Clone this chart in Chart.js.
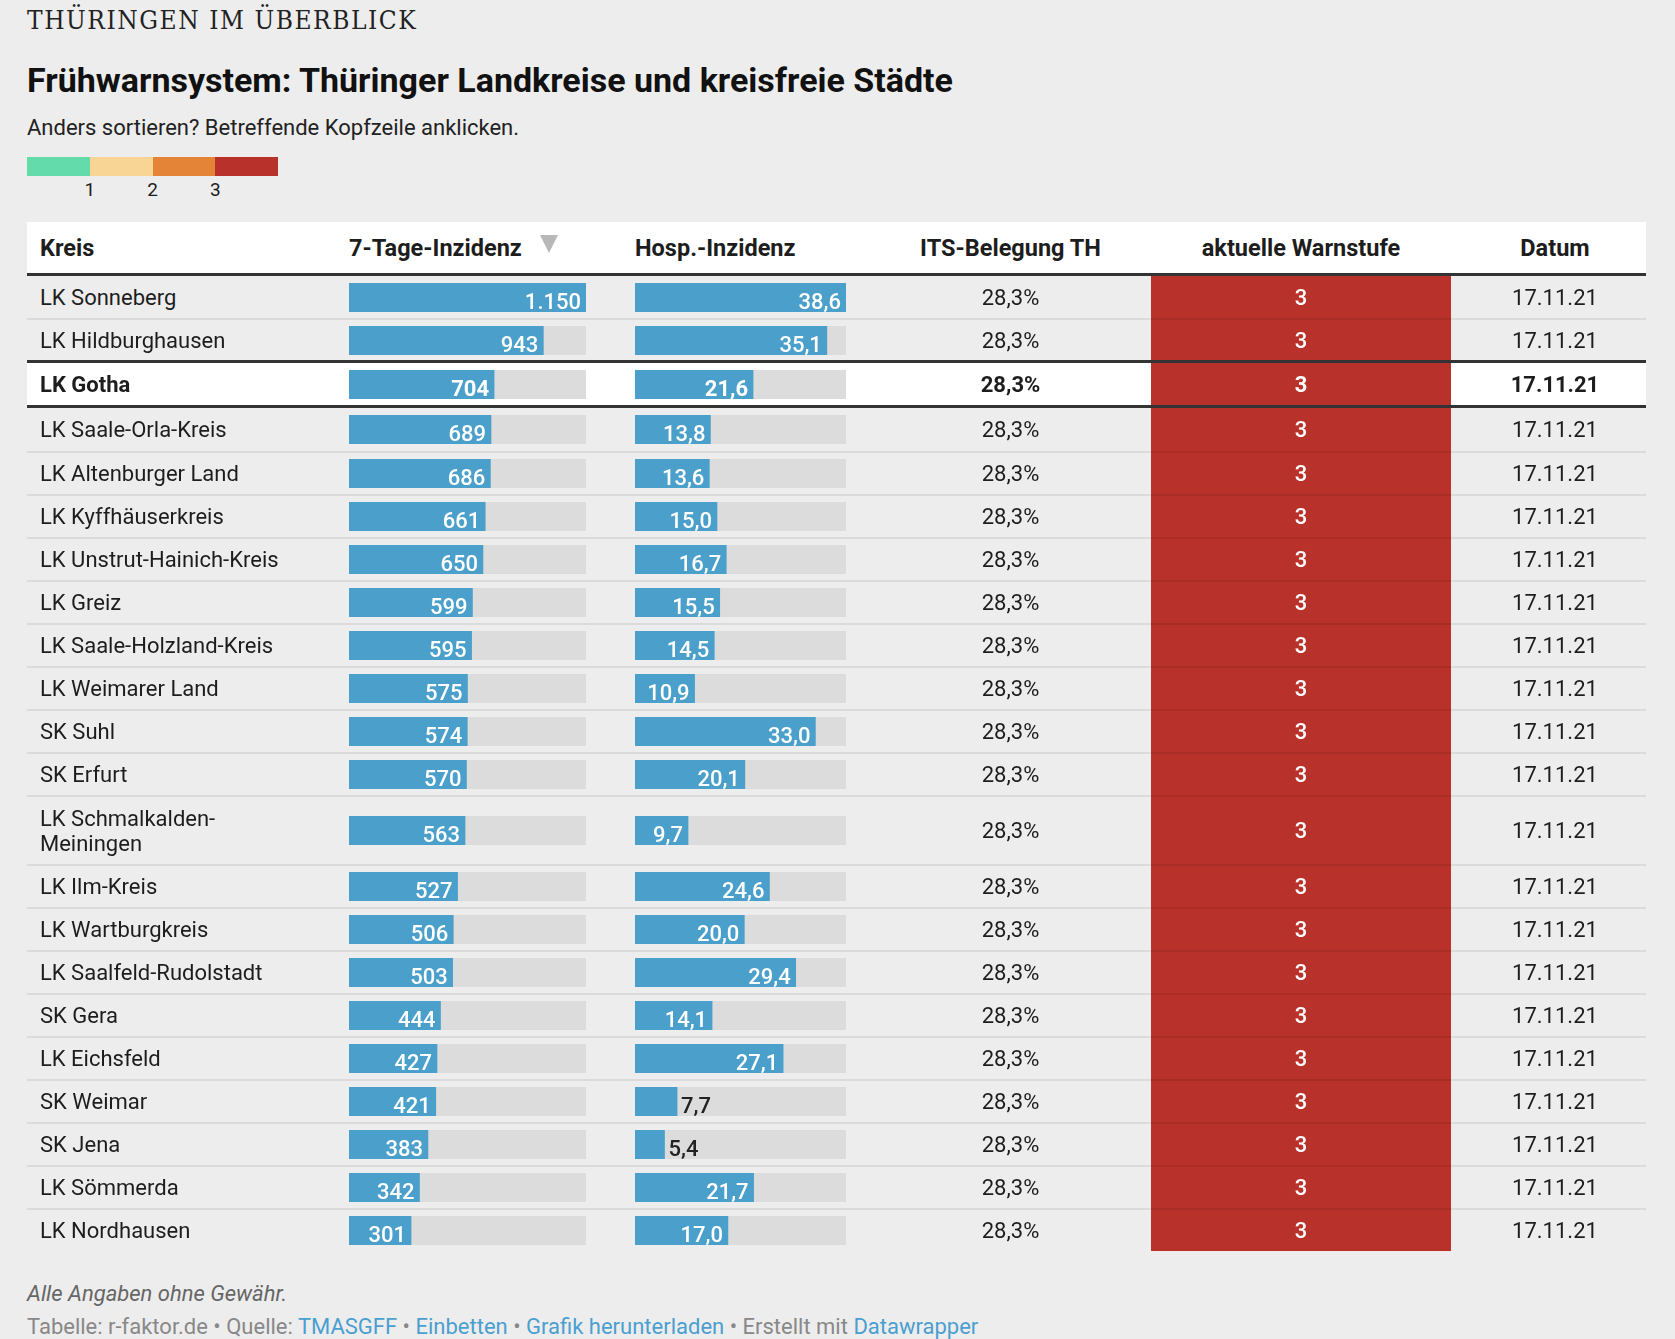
<!DOCTYPE html>
<html lang="de">
<head>
<meta charset="utf-8">
<title>Frühwarnsystem Thüringen</title>
<script src="https://cdn.jsdelivr.net/npm/chart.js@4/dist/chart.umd.min.js"></script>
<style>
  body { margin:0; background:#ededed; width:1675px; height:1339px; overflow:hidden; font-family:Roboto, "Noto Sans", sans-serif; color:#1d1d1d; }
  .abs { position:absolute; left:27px; white-space:nowrap; }
  #kicker { top:3px; font-family:"DejaVu Serif Condensed", "DejaVu Serif", serif; font-size:26px; line-height:34px; letter-spacing:1.55px; color:#222; }
  #title { top:60px; font-size:34px; line-height:40px; font-weight:bold; color:#111; }
  #sub { top:115px; font-size:22px; line-height:26px; color:#222; }
  #legend { top:157px; height:19px; display:flex; }
  #legend div { width:62.75px; height:19px; }
  #legendLbl { top:177px; height:26px; width:260px; }
  #legendLbl span { position:absolute; font-size:19px; line-height:26px; transform:translateX(-50%); }
  #table { position:absolute; left:27px; top:222px; width:1619px; }
  .row { display:flex; box-sizing:border-box; }
  .cell { box-sizing:border-box; display:flex; align-items:center; font-size:22px; border-top:2px solid rgba(0,0,0,0.075); }
  .head .cell { background:#fff; font-weight:bold; font-size:23.5px; border-top:none; border-bottom:3px solid #333; height:54px; }
  .c1 { width:310px; padding-left:13px; }
  .c2 { width:261px; padding-left:12px; }
  .c3 { width:260px; padding-left:37px; }
  .c4 { width:293px; padding-left:12px; justify-content:center; }
  .c5 { width:300px; justify-content:center; }
  .c6 { width:195px; padding-left:13px; justify-content:center; }
  .first .cell { border-top:none; }
  .hl .cell { border-top:3px solid #333; font-weight:bold; background:#fff; }
  .afterhl .cell { border-top:3px solid #333; }
  .warn { color:#fff; font-weight:500; }
  .hl .warn { font-weight:bold; }
  .tri { display:inline-block; width:0; height:0; border-left:9px solid transparent; border-right:9px solid transparent; border-top:18px solid #b8b8b8; margin-left:18px; position:relative; top:-4px; }
  canvas { display:block; }
  #note { top:1280px; font-size:22px; line-height:28px; font-style:italic; color:#666; }
  #credit { top:1313px; font-size:22px; line-height:28px; color:#888; }
  #credit a { color:#4a9fd0; text-decoration:none; }
</style>
</head>
<body>
<div id="kicker" class="abs">THÜRINGEN IM ÜBERBLICK</div>
<div id="title" class="abs">Frühwarnsystem: Thüringer Landkreise und kreisfreie Städte</div>
<div id="sub" class="abs">Anders sortieren? Betreffende Kopfzeile anklicken.</div>
<div id="legend" class="abs"></div>
<div id="legendLbl" class="abs"></div>
<div id="table"></div>
<div id="note" class="abs">Alle Angaben ohne Gewähr.</div>
<div id="credit" class="abs">Tabelle: r-faktor.de • Quelle: <a>TMASGFF</a> • <a>Einbetten</a> • <a>Grafik herunterladen</a> • Erstellt mit <a>Datawrapper</a></div>

<script>
// columns
const headers = ['Kreis', '7-Tage-Inzidenz', 'Hosp.-Inzidenz', 'ITS-Belegung TH', 'aktuelle Warnstufe', 'Datum'];

const kreise = [
  'LK Sonneberg', 'LK Hildburghausen', 'LK Gotha', 'LK Saale-Orla-Kreis', 'LK Altenburger Land',
  'LK Kyffhäuserkreis', 'LK Unstrut-Hainich-Kreis', 'LK Greiz', 'LK Saale-Holzland-Kreis',
  'LK Weimarer Land', 'SK Suhl', 'SK Erfurt', 'LK Schmalkalden-Meiningen', 'LK Ilm-Kreis',
  'LK Wartburgkreis', 'LK Saalfeld-Rudolstadt', 'SK Gera', 'LK Eichsfeld', 'SK Weimar',
  'SK Jena', 'LK Sömmerda', 'LK Nordhausen'
];
const inzidenz = [1150, 943, 704, 689, 686, 661, 650, 599, 595, 575, 574, 570, 563, 527, 506, 503, 444, 427, 421, 383, 342, 301];
const hospInzidenz = [38.6, 35.1, 21.6, 13.8, 13.6, 15.0, 16.7, 15.5, 14.5, 10.9, 33.0, 20.1, 9.7, 24.6, 20.0, 29.4, 14.1, 27.1, 7.7, 5.4, 21.7, 17.0];
const itsBelegung = [28.3, 28.3, 28.3, 28.3, 28.3, 28.3, 28.3, 28.3, 28.3, 28.3, 28.3, 28.3, 28.3, 28.3, 28.3, 28.3, 28.3, 28.3, 28.3, 28.3, 28.3, 28.3];
const warnstufe = [3, 3, 3, 3, 3, 3, 3, 3, 3, 3, 3, 3, 3, 3, 3, 3, 3, 3, 3, 3, 3, 3];
const datum = ['17.11.21', '17.11.21', '17.11.21', '17.11.21', '17.11.21', '17.11.21', '17.11.21', '17.11.21',
  '17.11.21', '17.11.21', '17.11.21', '17.11.21', '17.11.21', '17.11.21', '17.11.21', '17.11.21',
  '17.11.21', '17.11.21', '17.11.21', '17.11.21', '17.11.21', '17.11.21'];
const hervorgehoben = 'LK Gotha';

// legend: warning levels 0..3
const stufenFarben = ['#63dbaa', '#f8d594', '#e38436', '#b8312b'];
const legendLabels = ['1', '2', '3'];

const blue = '#4ba0cb';
const track = '#dcdcdc';

function fmtInt(v) {
  return String(Math.round(v)).replace(/\B(?=(\d{3})+(?!\d))/g, '.');
}
function fmtDec(v) {
  return v.toFixed(1).replace('.', ',');
}

Chart.defaults.font.family = 'Roboto';

// value label inside/outside the bar
const barLabels = {
  id: 'barLabels',
  afterDatasetsDraw(chart, args, opts) {
    const ctx = chart.ctx;
    const el = chart.getDatasetMeta(0).data[0];
    ctx.save();
    ctx.font = (opts.bold ? 'bold ' : '500 ') + '22px Roboto';
    const w = ctx.measureText(opts.text).width;
    const barW = el.x - el.base;
    const y = chart.chartArea.top + 25.5;
    if (barW > Math.max(w + 8, 46)) {
      ctx.fillStyle = '#fff';
      ctx.textAlign = 'right';
      ctx.fillText(opts.text, el.x - 5, y);
    } else {
      ctx.fillStyle = '#222';
      ctx.textAlign = 'left';
      ctx.fillText(opts.text, el.x + 4, y);
    }
    ctx.restore();
  }
};

function barChart(canvas, value, max, text, bold) {
  new Chart(canvas, {
    type: 'bar',
    data: {
      labels: [''],
      datasets: [
        { data: [value], backgroundColor: blue, order: 0, grouped: false, barPercentage: 1, categoryPercentage: 1 },
        { data: [max], backgroundColor: track, order: 1, grouped: false, barPercentage: 1, categoryPercentage: 1 }
      ]
    },
    options: {
      indexAxis: 'y',
      responsive: false,
      animation: false,
      events: [],
      layout: { padding: 0 },
      scales: {
        x: { display: false, min: 0, max: max },
        y: { display: false }
      },
      plugins: {
        legend: { display: false },
        tooltip: { enabled: false },
        barLabels: { text: text, bold: bold }
      }
    },
    plugins: [barLabels]
  });
}

// legend
const legend = document.getElementById('legend');
stufenFarben.forEach(c => {
  const d = document.createElement('div');
  d.style.background = c;
  legend.appendChild(d);
});
const legendLbl = document.getElementById('legendLbl');
legendLabels.forEach((l, i) => {
  const s = document.createElement('span');
  s.textContent = l;
  s.style.left = ((i + 1) * 62.75) + 'px';
  legendLbl.appendChild(s);
});

// table
const table = document.getElementById('table');
const head = document.createElement('div');
head.className = 'row head';
headers.forEach((h, i) => {
  const c = document.createElement('div');
  c.className = 'cell c' + (i + 1);
  c.textContent = h;
  if (i == 1) {
    const t = document.createElement('span');
    t.className = 'tri';
    c.appendChild(t);
  }
  head.appendChild(c);
});
table.appendChild(head);

const maxInz = Math.max(...inzidenz);
const maxHosp = Math.max(...hospInzidenz);
const hlIndex = kreise.indexOf(hervorgehoben);

for (let i = 0; i < kreise.length; i++) {
  const row = document.createElement('div');
  row.className = 'row';
  let h = 43;
  if (i == 0) { row.className += ' first'; h = 42; }
  if (i == 1) h = 42;
  if (i == hlIndex) { row.className += ' hl'; h = 45; }
  if (i == hlIndex + 1) { row.className += ' afterhl'; h = 46; }
  if (kreise[i].length > 24) h = 69;
  row.style.height = h + 'px';
  const bold = i == hlIndex;

  const c1 = document.createElement('div');
  c1.className = 'cell c1';
  c1.innerHTML = kreise[i].length > 24 ? kreise[i].replace('-', '-<br>') : kreise[i];
  c1.style.lineHeight = '25px';
  row.appendChild(c1);

  const c2 = document.createElement('div');
  c2.className = 'cell c2';
  const cv1 = document.createElement('canvas');
  cv1.width = 237; cv1.height = 29;
  c2.appendChild(cv1);
  row.appendChild(c2);

  const c3 = document.createElement('div');
  c3.className = 'cell c3';
  const cv2 = document.createElement('canvas');
  cv2.width = 211; cv2.height = 29;
  c3.appendChild(cv2);
  row.appendChild(c3);

  const c4 = document.createElement('div');
  c4.className = 'cell c4';
  c4.textContent = fmtDec(itsBelegung[i]) + '%';
  row.appendChild(c4);

  const c5 = document.createElement('div');
  c5.className = 'cell c5 warn';
  c5.style.background = stufenFarben[warnstufe[i]];
  c5.textContent = warnstufe[i];
  row.appendChild(c5);

  const c6 = document.createElement('div');
  c6.className = 'cell c6';
  c6.textContent = datum[i];
  row.appendChild(c6);

  table.appendChild(row);

  barChart(cv1, inzidenz[i], maxInz, fmtInt(inzidenz[i]), bold);
  barChart(cv2, hospInzidenz[i], maxHosp, fmtDec(hospInzidenz[i]), bold);
}
</script>
</body>
</html>
